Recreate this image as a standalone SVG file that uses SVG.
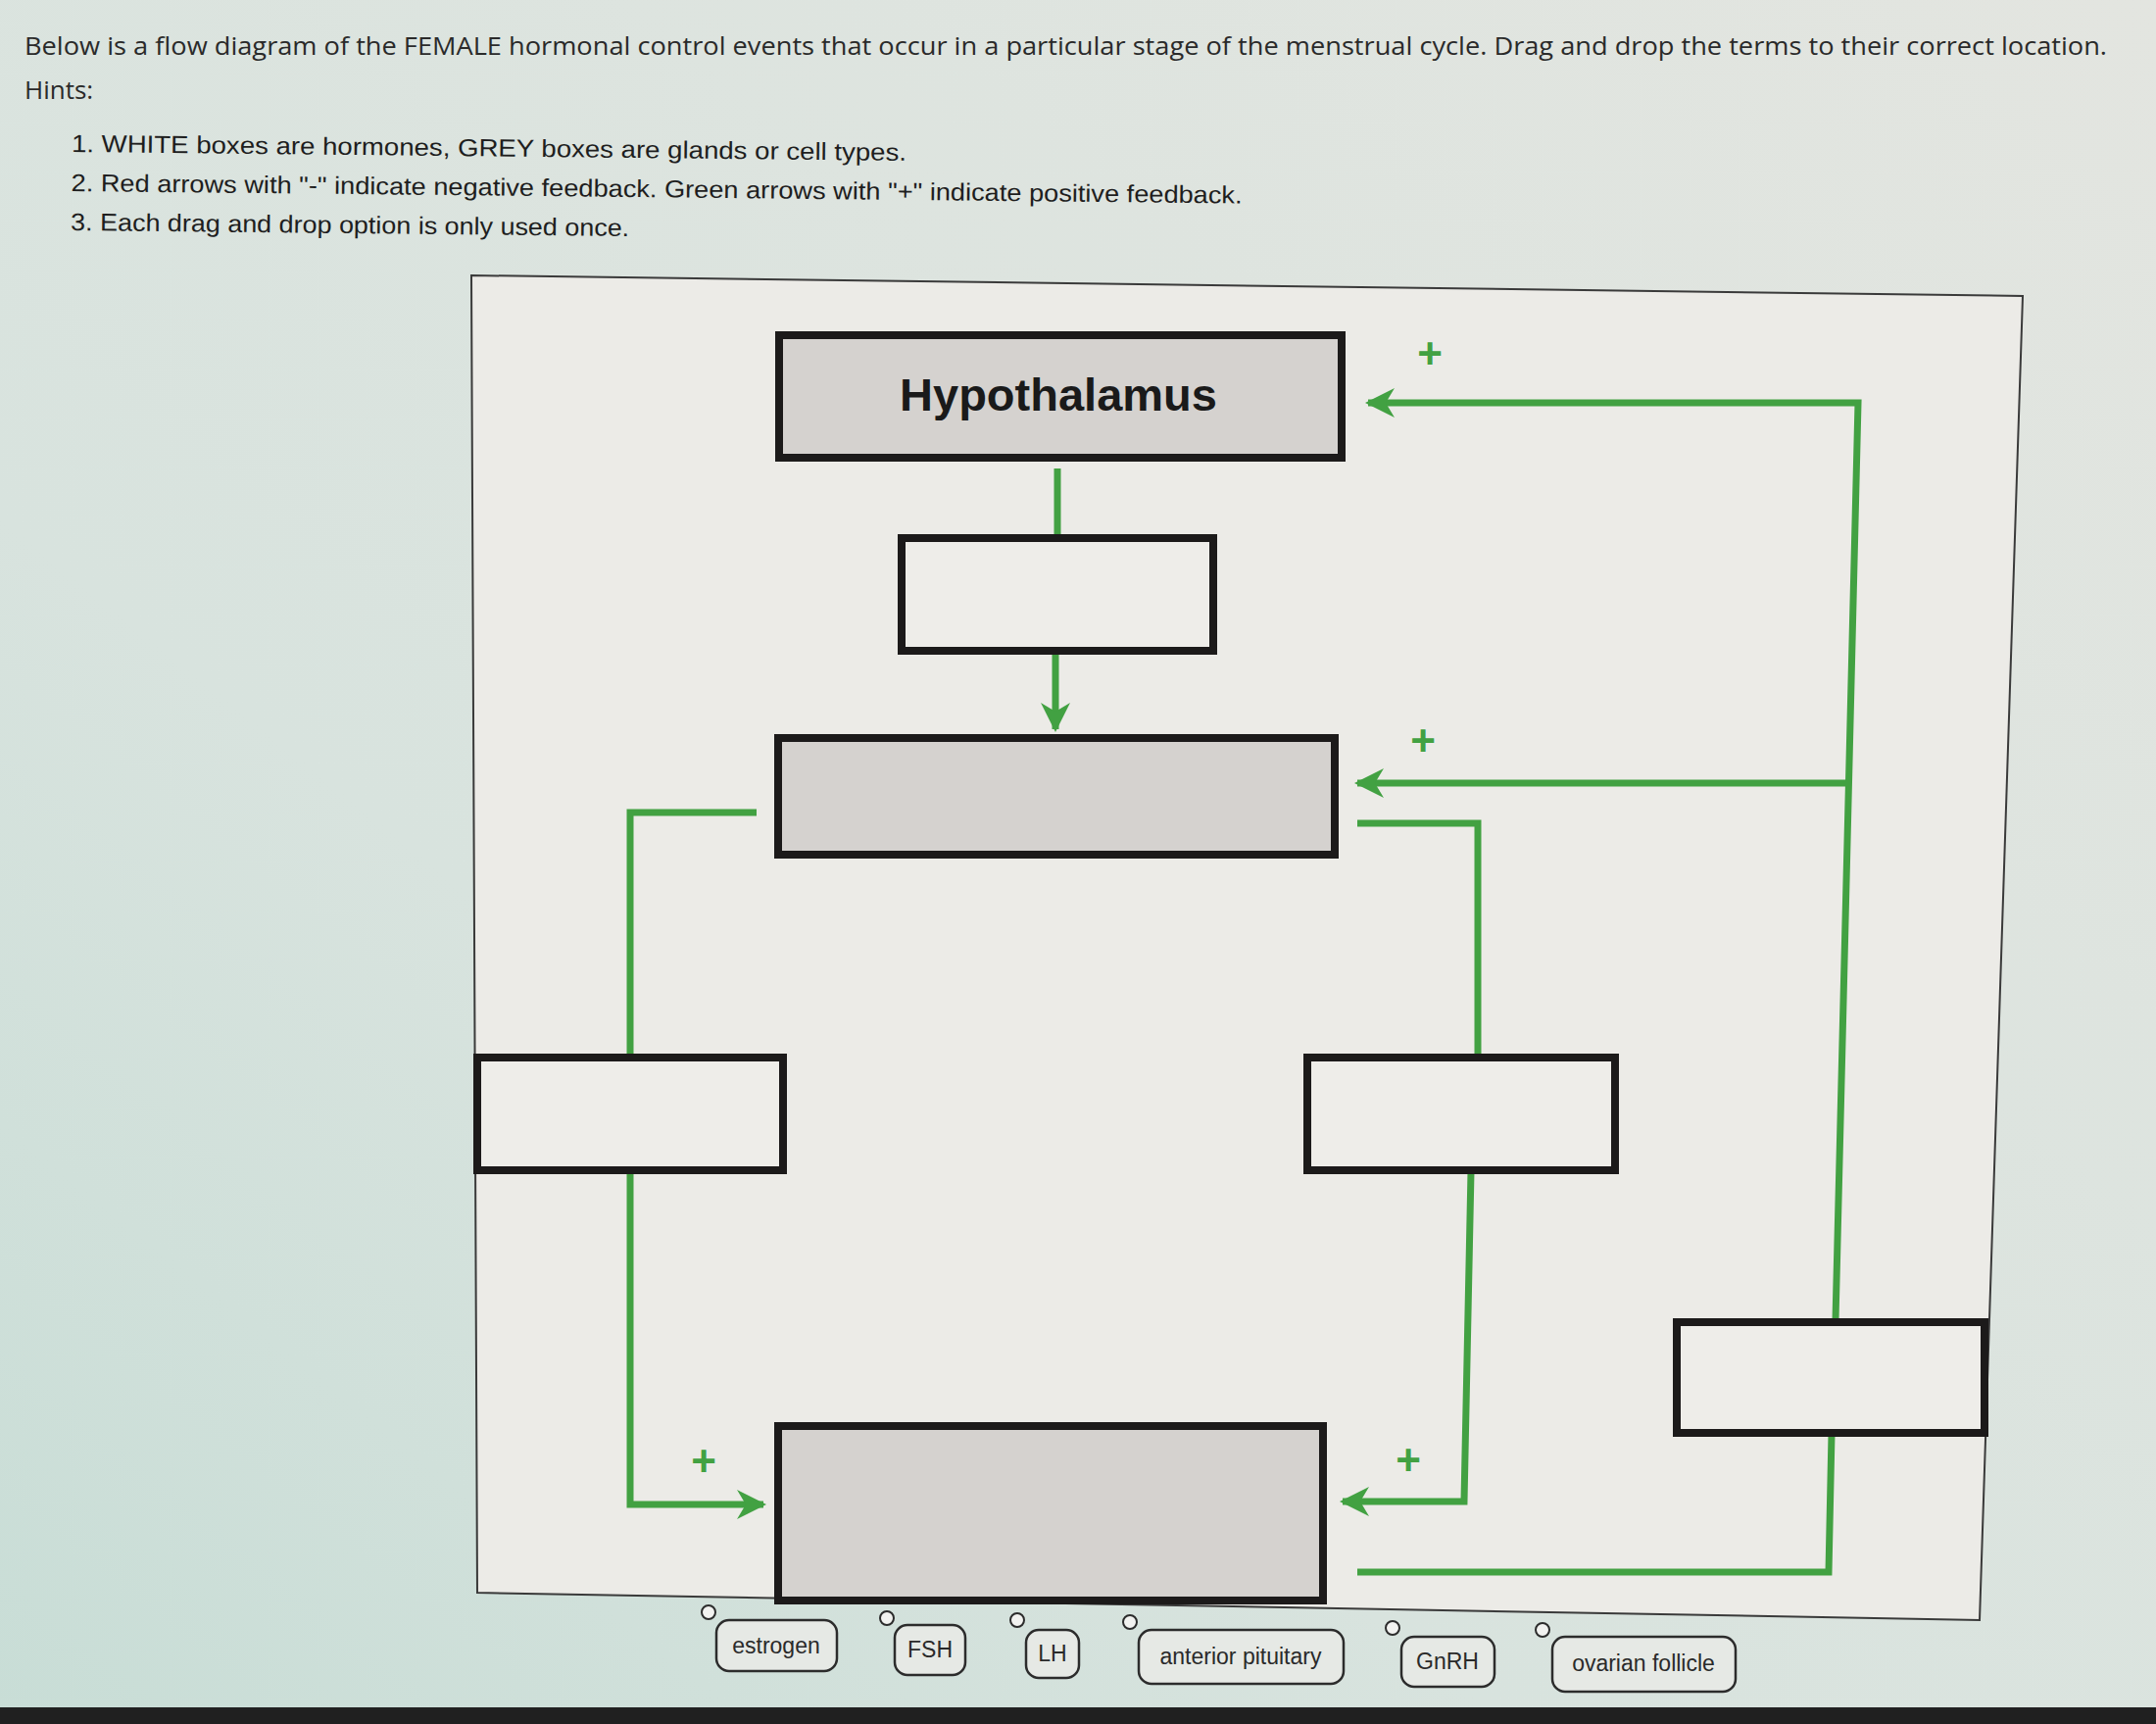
<svg xmlns="http://www.w3.org/2000/svg" width="2200" height="1759" viewBox="0 0 2200 1759">
  <defs>
    <linearGradient id="bg" x1="0" y1="1" x2="1" y2="0">
      <stop offset="0" stop-color="#c8ddd6"/>
      <stop offset="0.35" stop-color="#d8e3de"/>
      <stop offset="1" stop-color="#e3e5e0"/>
    </linearGradient>
    <marker id="arr" viewBox="0 0 10 10" refX="9" refY="5" markerWidth="30" markerHeight="30" markerUnits="userSpaceOnUse" orient="auto">
      <path d="M0,0 L10,5 L0,10 L3,5 Z" fill="#42a142"/>
    </marker>
    <style>
      .hdr { font-family: "Open Sans", "Liberation Sans", sans-serif; font-size: 26px; fill: #2a2a2a; }
      .hint { font-family: "Liberation Sans", Arial, sans-serif; font-size: 25px; fill: #1e1e1e; }
      .grey { fill: #d5d2cf; stroke: #1c1a1a; stroke-width: 8; }
      .white { fill: #eeede9; stroke: #1c1a1a; stroke-width: 8; }
      .conn { fill: none; stroke: #42a142; stroke-width: 7; stroke-linejoin: miter; }
      .plus { font-family: "Liberation Sans", Arial, sans-serif; font-size: 44px; font-weight: bold; fill: #42a142; text-anchor: middle; }
      .chip { fill: #e6e9e5; stroke: #2c2c2c; stroke-width: 2.5; }
      .chiptxt { font-family: "Liberation Sans", Arial, sans-serif; font-size: 23px; fill: #2a2a2a; text-anchor: middle; }
      .knob { fill: #f2f2f0; stroke: #2c2c2c; stroke-width: 2; }
    </style>
  </defs>

  <rect x="0" y="0" width="2200" height="1759" fill="url(#bg)"/>
  <rect x="0" y="1742" width="2200" height="17" fill="#202020"/>

  <!-- header text -->
  <text class="hdr" x="25" y="56" textLength="2125" lengthAdjust="spacingAndGlyphs">Below is a flow diagram of the FEMALE hormonal control events that occur in a particular stage of the menstrual cycle.  Drag and drop the terms to their correct location.</text>
  <text class="hdr" x="25" y="101">Hints:</text>
  <g transform="rotate(0.6 73 150)">
    <text class="hint" x="73" y="155" textLength="852" lengthAdjust="spacingAndGlyphs">1. WHITE boxes are hormones, GREY boxes are glands or cell types.</text>
    <text class="hint" x="73" y="195" textLength="1195" lengthAdjust="spacingAndGlyphs">2. Red arrows with "-" indicate negative feedback.  Green arrows with "+" indicate positive feedback.</text>
    <text class="hint" x="73" y="235" textLength="570" lengthAdjust="spacingAndGlyphs">3. Each drag and drop option is only used once.</text>
  </g>

  <!-- diagram frame -->
  <polygon points="481,281 2064,302 2020,1653 487,1625" fill="#ecebe7" stroke="#3a3a3a" stroke-width="2"/>

  <!-- connectors -->
  <g id="connectors">
    <path class="conn" d="M1079,478 V547"/>
    <path class="conn" d="M1077,665 V744" marker-end="url(#arr)"/>
    <path class="conn" d="M1873,1347 L1896,411 H1396" marker-end="url(#arr)"/>
    <path class="conn" d="M1886,799 H1385" marker-end="url(#arr)"/>
    <path class="conn" d="M772,829 H643 V1077"/>
    <path class="conn" d="M643,1195 V1535 H779" marker-end="url(#arr)"/>
    <path class="conn" d="M1385,840 H1508 V1077"/>
    <path class="conn" d="M1501,1195 L1494,1532 H1370" marker-end="url(#arr)"/>
    <path class="conn" d="M1869,1463 L1866,1604 H1385"/>
    <text class="plus" x="1459" y="376">+</text>
    <text class="plus" x="1452" y="771">+</text>
    <text class="plus" x="718" y="1506">+</text>
    <text class="plus" x="1437" y="1505">+</text>
  </g>

  <!-- nodes -->
  <g id="hypothalamus">
    <rect class="grey" x="795" y="342" width="574" height="125"/>
    <text x="1080" y="419" text-anchor="middle" font-family="Liberation Sans, Arial, sans-serif" font-size="47" font-weight="bold" fill="#1a1a1a">Hypothalamus</text>
  </g>
  <g id="hormone-top">
    <rect class="white" x="920" y="549" width="318" height="115"/>
  </g>
  <g id="gland-middle">
    <rect class="grey" x="794" y="753" width="568" height="119"/>
  </g>
  <g id="hormone-left">
    <rect class="white" x="487" y="1079" width="312" height="115"/>
  </g>
  <g id="hormone-right">
    <rect class="white" x="1334" y="1079" width="314" height="115"/>
  </g>
  <g id="hormone-far-right">
    <rect class="white" x="1711" y="1349" width="314" height="113"/>
  </g>
  <g id="gland-bottom">
    <rect class="grey" x="794" y="1455" width="556" height="178"/>
  </g>

  <!-- drag options -->
  <g id="opt-estrogen">
    <rect class="chip" x="731" y="1653" width="123" height="52" rx="13"/>
    <circle class="knob" cx="723" cy="1645" r="7"/>
    <text class="chiptxt" x="792" y="1687">estrogen</text>
  </g>
  <g id="opt-fsh">
    <rect class="chip" x="913" y="1658" width="72" height="51" rx="13"/>
    <circle class="knob" cx="905" cy="1651" r="7"/>
    <text class="chiptxt" x="949" y="1691">FSH</text>
  </g>
  <g id="opt-lh">
    <rect class="chip" x="1047" y="1663" width="54" height="49" rx="13"/>
    <circle class="knob" cx="1038" cy="1653" r="7"/>
    <text class="chiptxt" x="1074" y="1695">LH</text>
  </g>
  <g id="opt-anterior-pituitary">
    <rect class="chip" x="1162" y="1663" width="209" height="55" rx="13"/>
    <circle class="knob" cx="1153" cy="1655" r="7"/>
    <text class="chiptxt" x="1266" y="1698">anterior pituitary</text>
  </g>
  <g id="opt-gnrh">
    <rect class="chip" x="1430" y="1670" width="95" height="51" rx="13"/>
    <circle class="knob" cx="1421" cy="1661" r="7"/>
    <text class="chiptxt" x="1477" y="1703">GnRH</text>
  </g>
  <g id="opt-ovarian-follicle">
    <rect class="chip" x="1584" y="1670" width="187" height="56" rx="13"/>
    <circle class="knob" cx="1574" cy="1663" r="7"/>
    <text class="chiptxt" x="1677" y="1705">ovarian follicle</text>
  </g>
</svg>
